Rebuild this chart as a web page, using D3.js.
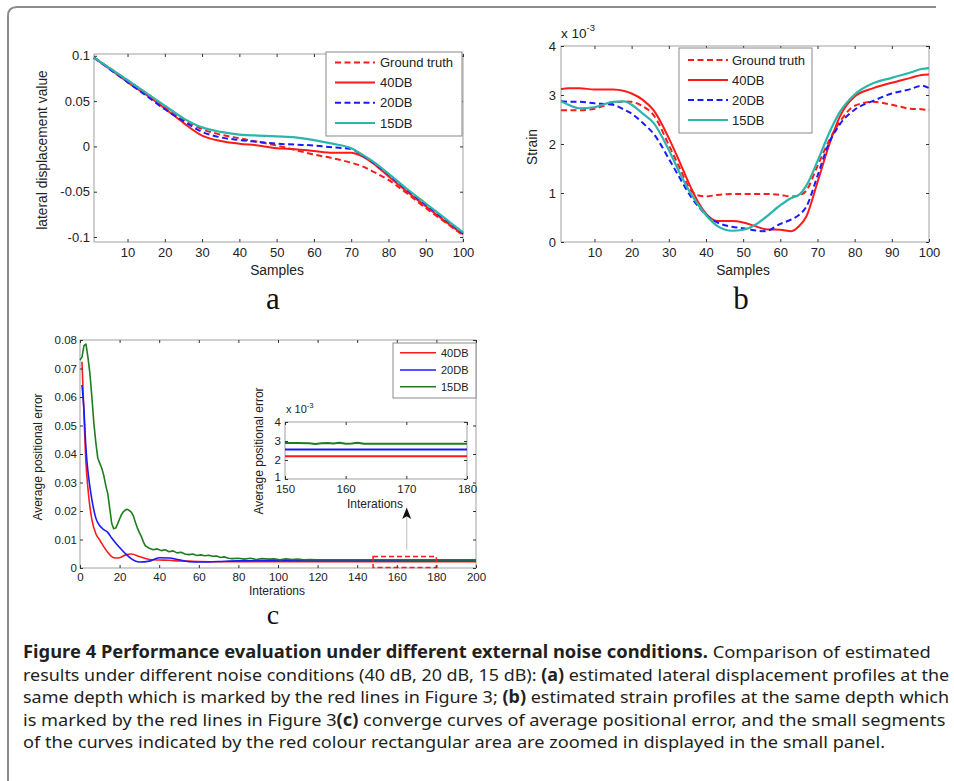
<!DOCTYPE html>
<html>
<head>
<meta charset="utf-8">
<script src="https://cdn.jsdelivr.net/npm/d3@7"></script>
<style>
  body { margin: 0; background: #fff; }
  svg { display: block; }
</style>
</head>
<body>
<div id="chart"></div>
<script>
// ---------- data ----------

// (a) lateral displacement value vs samples
var samplesA = [1, 5, 10, 15, 20, 25, 30, 35, 40, 45, 50, 55, 60, 65, 70, 73, 76, 80, 85, 90, 95, 100];
var truthA = [0.098, 0.087, 0.073, 0.059, 0.044, 0.030, 0.019, 0.013, 0.009, 0.005, 0.001, -0.004, -0.009, -0.013, -0.018, -0.022, -0.028, -0.037, -0.052, -0.068, -0.083, -0.098];
var db40A = [0.098, 0.086, 0.071, 0.057, 0.042, 0.026, 0.012, 0.006, 0.003, 0.001, -0.002, -0.003, -0.005, -0.007, -0.007, -0.011, -0.019, -0.033, -0.050, -0.066, -0.082, -0.097];
var db20A = [0.098, 0.086, 0.071, 0.056, 0.041, 0.028, 0.016, 0.010, 0.007, 0.005, 0.003, 0.002, 0.001, -0.001, -0.003, -0.010, -0.018, -0.031, -0.048, -0.064, -0.080, -0.096];
var db15A = [0.098, 0.087, 0.073, 0.059, 0.045, 0.031, 0.021, 0.016, 0.013, 0.012, 0.011, 0.010, 0.007, 0.003, -0.002, -0.009, -0.017, -0.030, -0.047, -0.063, -0.079, -0.095];

// (b) strain (x 10^-3) vs samples
var samplesB = [1, 3, 6, 10, 15, 18, 20, 23, 26, 30, 33, 36, 38, 40, 43, 47, 50, 53, 56, 60, 63, 65, 67, 70, 73, 76, 80, 85, 90, 95, 98, 100];
var truthB = [2.69, 2.69, 2.69, 2.72, 2.84, 2.87, 2.86, 2.77, 2.58, 1.98, 1.50, 1.05, 0.95, 0.93, 0.96, 0.98, 0.98, 0.98, 0.98, 0.96, 0.93, 0.95, 1.05, 1.55, 2.05, 2.45, 2.78, 2.86, 2.80, 2.72, 2.71, 2.69];
var db40B = [3.12, 3.14, 3.14, 3.11, 3.11, 3.08, 3.03, 2.90, 2.68, 2.12, 1.62, 1.10, 0.80, 0.58, 0.43, 0.43, 0.40, 0.33, 0.26, 0.25, 0.22, 0.32, 0.52, 1.22, 1.95, 2.56, 2.97, 3.14, 3.25, 3.35, 3.41, 3.42];
var db20B = [2.87, 2.86, 2.86, 2.83, 2.80, 2.70, 2.62, 2.43, 2.20, 1.70, 1.30, 0.92, 0.72, 0.55, 0.40, 0.31, 0.28, 0.24, 0.22, 0.37, 0.46, 0.55, 0.72, 1.35, 2.00, 2.40, 2.70, 2.88, 3.03, 3.12, 3.19, 3.14];
var db15B = [2.87, 2.80, 2.73, 2.75, 2.86, 2.87, 2.80, 2.62, 2.42, 1.88, 1.40, 0.98, 0.75, 0.55, 0.33, 0.23, 0.25, 0.34, 0.50, 0.75, 0.90, 0.96, 1.15, 1.65, 2.20, 2.65, 3.01, 3.24, 3.35, 3.46, 3.53, 3.55];

// (c) average positional error vs iterations
var iterC = [1, 2, 3, 4, 5, 6, 8, 10, 12, 14, 16, 18, 20, 23, 26, 30, 35, 40, 45, 50, 55, 60, 70, 80, 100, 150, 200];
var db40C = [0.0724, 0.054, 0.037, 0.028, 0.0215, 0.017, 0.012, 0.0098, 0.0075, 0.0055, 0.0040, 0.0035, 0.0036, 0.0046, 0.0049, 0.0040, 0.0030, 0.0028, 0.0027, 0.0025, 0.0024, 0.0023, 0.0022, 0.0022, 0.0022, 0.0022, 0.0022];
var db20C = [0.0642, 0.0554, 0.042, 0.034, 0.0285, 0.024, 0.0175, 0.0148, 0.0135, 0.0125, 0.0105, 0.0088, 0.0072, 0.0050, 0.0032, 0.0021, 0.0024, 0.0036, 0.0035, 0.0029, 0.0022, 0.0021, 0.0023, 0.0025, 0.00255, 0.00255, 0.00255];
var iterGreenC = [0, 1, 2, 3, 4, 5, 6, 7, 8, 9, 10, 11, 12, 13, 14, 15, 16, 17, 18, 19, 20, 21, 22, 23, 24, 25, 26, 27, 28, 29, 30, 31, 32, 33, 35, 37, 39, 41, 43, 45, 47, 49, 51, 53, 55, 57, 59, 61, 63, 65, 67, 69, 71, 73, 75, 77, 80, 83, 86, 89, 92, 95, 98, 101, 104, 107, 110, 113, 116, 120, 130, 140, 150, 160, 170, 180, 190, 200];
var db15C = [0.0730, 0.0740, 0.0780, 0.0786, 0.0740, 0.0683, 0.0600, 0.0508, 0.0440, 0.0385, 0.0367, 0.0350, 0.0325, 0.0290, 0.0262, 0.0210, 0.0157, 0.0138, 0.0140, 0.0155, 0.0172, 0.0188, 0.0198, 0.0204, 0.0206, 0.0201, 0.0195, 0.0182, 0.0160, 0.0140, 0.0124, 0.0110, 0.0092, 0.0078, 0.0069, 0.0064, 0.0067, 0.0061, 0.0064, 0.0057, 0.0060, 0.0053, 0.0055, 0.0049, 0.0047, 0.0049, 0.0044, 0.0046, 0.0043, 0.0045, 0.0041, 0.0042, 0.0037, 0.0039, 0.0034, 0.0033, 0.0034, 0.0031, 0.0034, 0.0030, 0.0033, 0.0031, 0.0032, 0.0029, 0.0032, 0.0030, 0.0031, 0.0029, 0.0030, 0.0029, 0.0029, 0.0029, 0.0029, 0.0029, 0.00286, 0.00286, 0.00286, 0.00286];

// (c) inset, iterations 150-180 (x 10^-3)
var iterInset = [150, 152, 154, 155, 156, 157, 158, 159, 160, 161, 162, 163, 165, 170, 175, 180];
var db15Inset = [2.90, 2.90, 2.88, 2.84, 2.88, 2.90, 2.87, 2.91, 2.86, 2.87, 2.91, 2.86, 2.86, 2.86, 2.86, 2.86];
var iterInsetFlat = [150, 180];
var db20Inset = [2.55, 2.55];
var db40Inset = [2.2, 2.2];

// zoomed region marked in (c)
var zoomBoxIter = [148, 180];
var zoomBoxErr = [0.0002, 0.004];

// tick values
var ticksSamples = [10, 20, 30, 40, 50, 60, 70, 80, 90, 100];
var ticksA = [-0.1, -0.05, 0, 0.05, 0.1];
var ticksB = [0, 1, 2, 3, 4];
var ticksIterC = [0, 20, 40, 60, 80, 100, 120, 140, 160, 180, 200];
var ticksErrC = [0, 0.01, 0.02, 0.03, 0.04, 0.05, 0.06, 0.07, 0.08];
var ticksIterInset = [150, 160, 170, 180];
var ticksErrInset = [1, 2, 3, 4];

// caption lines: [bold?, text]
var captionLines = [
  [[1, "Figure 4 Performance evaluation under different external noise conditions."], [0, " Comparison of estimated"]],
  [[0, "results under different noise conditions (40 dB, 20 dB, 15 dB): "], [1, "(a)"], [0, " estimated lateral displacement profiles at the"]],
  [[0, "same depth which is marked by the red lines in Figure 3; "], [1, "(b)"], [0, " estimated strain profiles at the same depth which"]],
  [[0, "is marked by the red lines in Figure 3"], [1, "(c)"], [0, " converge curves of average positional error, and the small segments"]],
  [[0, "of the curves indicated by the red colour rectangular area are zoomed in displayed in the small panel."]]
];

var RED = "#ff1a1a", BLUE = "#1a1aff", CYAN = "#2bb5ad", GREEN = "#1e7d1e";
var FONT = "'Liberation Sans', Arial, sans-serif";

var svg = d3.select("#chart").append("svg")
  .attr("width", 954).attr("height", 781);

// outer frame
svg.append("path")
  .attr("d", "M8,795 L8,16 Q8,7 17,7 L936,7")
  .attr("fill", "none").attr("stroke", "#8c8c8c").attr("stroke-width", 2);

function fmt(d) { return String(d); }

// box + mirrored inward ticks, matlab style
function makePanel(o) {
  var g = svg.append("g");
  var x = d3.scaleLinear().domain(o.xDomain).range([o.left, o.right]);
  var y = d3.scaleLinear().domain(o.yDomain).range([o.bottom, o.top]);
  g.append("rect")
    .attr("x", o.left).attr("y", o.top)
    .attr("width", o.right - o.left).attr("height", o.bottom - o.top)
    .attr("fill", "#fff").attr("stroke", "#a0a0a0").attr("stroke-width", 1);
  var lines = g.append("g");
  var axes = g.append("g");
  axes.append("g").attr("transform", "translate(0," + o.bottom + ")")
    .call(d3.axisBottom(x).tickValues(o.xTicks).tickSize(-3).tickPadding(o.xPad).tickFormat(fmt));
  axes.append("g").attr("transform", "translate(" + o.left + ",0)")
    .call(d3.axisLeft(y).tickValues(o.yTicks).tickSize(-3).tickPadding(o.yPad).tickFormat(fmt));
  axes.append("g").attr("transform", "translate(0," + o.top + ")")
    .call(d3.axisTop(x).tickValues(o.xTicks).tickSize(-3).tickFormat(""));
  axes.append("g").attr("transform", "translate(" + o.right + ",0)")
    .call(d3.axisRight(y).tickValues(o.yTicks).tickSize(-3).tickFormat(""));
  axes.selectAll(".domain").remove();
  axes.selectAll(".tick line").attr("stroke", "#333");
  axes.selectAll("text").attr("font-family", FONT).attr("font-size", o.fontSize).attr("fill", "#222");
  return { g: g, lines: lines, x: x, y: y };
}

function drawSeries(p, xs, ys, color, dash, width, curve) {
  var pts = xs.map(function(d, i) { return [d, ys[i]]; });
  var line = d3.line()
    .x(function(d) { return p.x(d[0]); })
    .y(function(d) { return p.y(d[1]); })
    .curve(curve || d3.curveMonotoneX);
  p.lines.append("path")
    .datum(pts)
    .attr("d", line)
    .attr("fill", "none")
    .attr("stroke", color)
    .attr("stroke-width", width)
    .attr("stroke-dasharray", dash ? "6,3.5" : null)
    .attr("stroke-linejoin", "round");
}

function drawLegend(o) {
  var g = svg.append("g");
  g.append("rect")
    .attr("x", o.x).attr("y", o.y).attr("width", o.w).attr("height", o.h)
    .attr("fill", "#fff").attr("stroke", "#8a8a8a").attr("stroke-width", 1);
  o.items.forEach(function(it, i) {
    var yy = o.rows[i];
    g.append("line")
      .attr("x1", o.lx1).attr("x2", o.lx2).attr("y1", yy).attr("y2", yy)
      .attr("stroke", it.color).attr("stroke-width", o.lw)
      .attr("stroke-dasharray", it.dash ? "6,3.5" : null);
    g.append("text")
      .attr("x", o.tx).attr("y", yy).attr("dy", "0.35em")
      .attr("font-family", FONT).attr("font-size", o.fontSize).attr("fill", "#222")
      .text(it.label);
  });
}

function label(x, y, txt, size, rotate, anchor) {
  var t = svg.append("text")
    .attr("font-family", FONT).attr("font-size", size).attr("fill", "#222")
    .attr("text-anchor", anchor || "middle")
    .text(txt);
  if (rotate) t.attr("transform", "translate(" + x + "," + y + ") rotate(-90)").attr("dy", "0.35em");
  else t.attr("x", x).attr("y", y);
  return t;
}

function exponent(x, y, size) {
  var t = svg.append("text")
    .attr("x", x).attr("y", y)
    .attr("font-family", FONT).attr("font-size", size).attr("fill", "#222");
  t.append("tspan").text("x 10");
  t.append("tspan").attr("dy", -size * 0.5).attr("font-size", size * 0.7).text("-3");
}

function panelLetter(x, y, txt, size) {
  svg.append("text")
    .attr("x", x).attr("y", y).attr("text-anchor", "middle")
    .attr("font-family", "'Liberation Serif', 'Times New Roman', serif")
    .attr("font-size", size).attr("fill", "#111")
    .text(txt);
}

// ---------- panel a ----------
var pa = makePanel({
  left: 94, right: 463, top: 54, bottom: 242,
  xDomain: [1, 100], yDomain: [-0.1055, 0.102],
  xTicks: ticksSamples, yTicks: ticksA, xPad: 6, yPad: 4, fontSize: 13
});
drawSeries(pa, samplesA, truthA, RED, true, 2);
drawSeries(pa, samplesA, db40A, RED, false, 2);
drawSeries(pa, samplesA, db20A, BLUE, true, 2);
drawSeries(pa, samplesA, db15A, CYAN, false, 2.2);
drawLegend({
  x: 326, y: 52, w: 136, h: 84, rows: [62.5, 82.5, 102.7, 123],
  lx1: 335, lx2: 375, tx: 380, lw: 2, fontSize: 13,
  items: [
    { label: "Ground truth", color: RED, dash: true },
    { label: "40DB", color: RED },
    { label: "20DB", color: BLUE, dash: true },
    { label: "15DB", color: CYAN }
  ]
});
label(42, 150, "lateral displacement value", 13.8, true);
label(277, 275, "Samples", 13.8);
panelLetter(273, 309, "a", 31);

// ---------- panel b ----------
var pb = makePanel({
  left: 561, right: 929, top: 46, bottom: 242,
  xDomain: [1, 100], yDomain: [0, 4],
  xTicks: ticksSamples, yTicks: ticksB, xPad: 6, yPad: 5, fontSize: 13
});
drawSeries(pb, samplesB, truthB, RED, true, 2);
drawSeries(pb, samplesB, db40B, RED, false, 2);
drawSeries(pb, samplesB, db20B, BLUE, true, 2);
drawSeries(pb, samplesB, db15B, CYAN, false, 2.2);
drawLegend({
  x: 679, y: 48, w: 133, h: 85, rows: [60, 80, 100, 120],
  lx1: 688, lx2: 728, tx: 732, lw: 2, fontSize: 13,
  items: [
    { label: "Ground truth", color: RED, dash: true },
    { label: "40DB", color: RED },
    { label: "20DB", color: BLUE, dash: true },
    { label: "15DB", color: CYAN }
  ]
});
exponent(561, 38, 13.5);
label(532, 147, "Strain", 13.8, true);
label(743, 275, "Samples", 13.8);
panelLetter(741, 309, "b", 31);

// ---------- panel c ----------
var pc = makePanel({
  left: 80, right: 476, top: 340, bottom: 568,
  xDomain: [0, 200], yDomain: [0, 0.08],
  xTicks: ticksIterC, yTicks: ticksErrC, xPad: 5, yPad: 3, fontSize: 11.5
});
drawSeries(pc, iterC, db40C, RED, false, 1.6);
drawSeries(pc, iterC, db20C, BLUE, false, 1.6);
drawSeries(pc, iterGreenC, db15C, GREEN, false, 1.6, d3.curveLinear);

// red dashed zoom box
pc.lines.append("rect")
  .attr("x", pc.x(zoomBoxIter[0])).attr("y", pc.y(zoomBoxErr[1]))
  .attr("width", pc.x(zoomBoxIter[1]) - pc.x(zoomBoxIter[0]))
  .attr("height", pc.y(zoomBoxErr[0]) - pc.y(zoomBoxErr[1]))
  .attr("fill", "none").attr("stroke", RED).attr("stroke-width", 1.5)
  .attr("stroke-dasharray", "5,3");

// arrow towards the inset
var ax = pc.x(165);
pc.lines.append("line")
  .attr("x1", ax).attr("x2", ax).attr("y1", pc.y(0.0064)).attr("y2", pc.y(0.0185))
  .attr("stroke", "#c8c8c8").attr("stroke-width", 1.2);
pc.lines.append("path")
  .attr("d", "M" + ax + "," + pc.y(0.0212) + " L" + (ax + 4.5) + "," + pc.y(0.0172) +
    " L" + ax + "," + pc.y(0.0182) + " L" + (ax - 4.5) + "," + pc.y(0.0172) + " Z")
  .attr("fill", "#111");

drawLegend({
  x: 393, y: 343, w: 83, h: 55, rows: [352.7, 370, 386.7],
  lx1: 400, lx2: 436, tx: 441, lw: 1.6, fontSize: 11,
  items: [
    { label: "40DB", color: RED },
    { label: "20DB", color: BLUE },
    { label: "15DB", color: GREEN }
  ]
});
label(38, 457, "Average positional error", 12, true);
label(277, 595, "Interations", 12);
panelLetter(273, 624, "c", 28);

// inset
var pi = makePanel({
  left: 285, right: 467, top: 422, bottom: 479,
  xDomain: [150, 180], yDomain: [1, 4],
  xTicks: ticksIterInset, yTicks: ticksErrInset, xPad: 6, yPad: 4, fontSize: 11.5
});
drawSeries(pi, iterInset, db15Inset, GREEN, false, 2, d3.curveLinear);
drawSeries(pi, iterInsetFlat, db20Inset, BLUE, false, 2);
drawSeries(pi, iterInsetFlat, db40Inset, RED, false, 2);
// nudge the lowest y label so it clears the "150" label
pi.g.selectAll(".tick text").filter(function(d) { return d === 1; }).attr("dy", "0.1em");
exponent(286, 413, 11);
label(259, 451, "Average positional error", 12, true);
label(375, 508, "Interations", 12);

// ---------- caption ----------
var capBase = [658, 680.5, 703, 725.5, 748];
var capRight = [931, 950, 950, 946, 886];
var capLeft = 23;
captionLines.forEach(function(parts, i) {
  var g = svg.append("g");
  var t = g.append("text")
    .attr("font-family", "'Noto Sans', 'Open Sans', sans-serif")
    .attr("font-size", 17).attr("fill", "#231f20")
    .style("white-space", "pre");
  parts.forEach(function(p) {
    t.append("tspan").attr("font-weight", p[0] ? "bold" : "normal").text(p[1]);
  });
  var w = t.node().getComputedTextLength();
  var sx = (capRight[i] - capLeft) / w;
  g.attr("transform", "translate(" + capLeft + "," + capBase[i] + ") scale(" + sx + ",1)");
});
</script>
</body>
</html>
